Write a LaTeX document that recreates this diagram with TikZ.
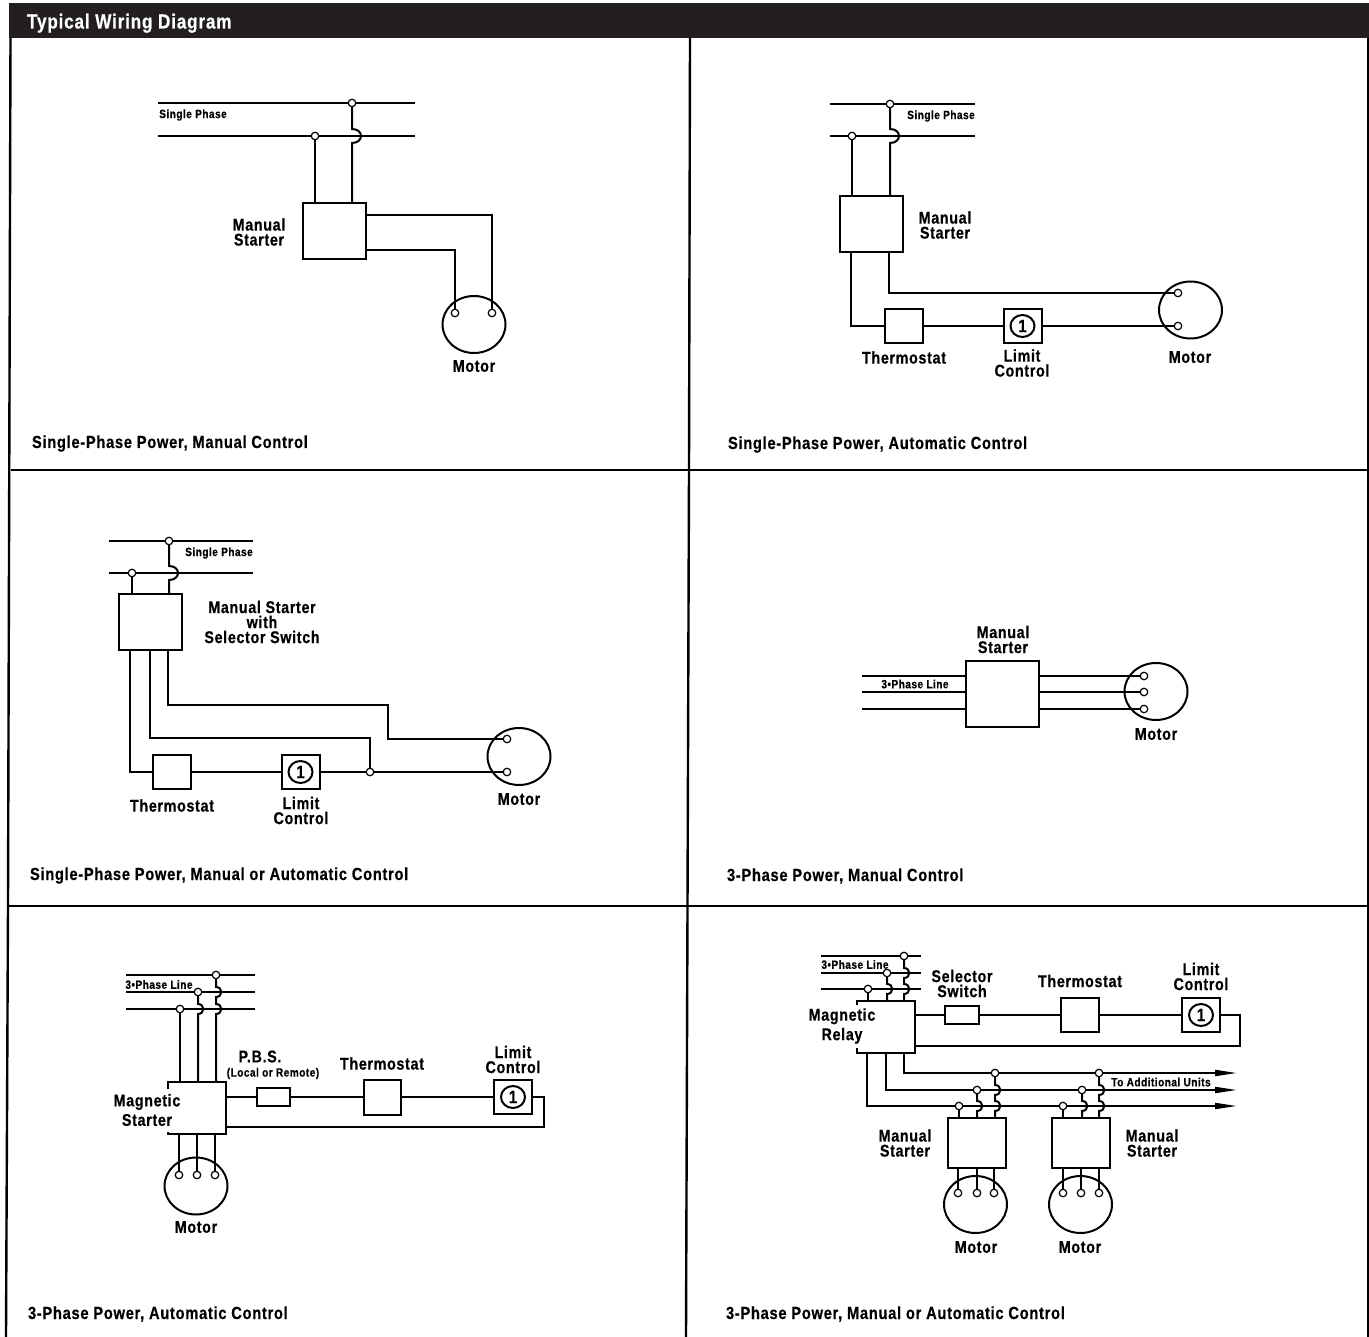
\documentclass[tikz,border=0pt]{standalone}
\usepackage{fontspec}
\setmainfont{Liberation Sans}[FakeStretch=0.84,LetterSpace=4,BoldFeatures={FakeBold=0.5}]
\usetikzlibrary{arrows.meta,shapes.geometric}
\definecolor{barblack}{HTML}{231F20}
\newcommand{\bighop}[2]{-- (#1,#2-7) to[out=0,in=0,looseness=2.2] (#1,#2+7)}
\newcommand{\tinyhop}[2]{-- (#1,#2-5) to[out=0,in=0,looseness=1.8] (#1,#2+5)}

\begin{document}
\begin{tikzpicture}[x=1pt,y=-1pt,line width=2pt,
  every node/.style={outer sep=0pt},
  unit/.style={draw,rectangle,inner sep=0pt},
  tap/.style={draw,circle,line width=1.2pt,inner sep=0pt,minimum size=7.5pt},
  motor/.style={draw,ellipse,inner sep=0pt,minimum width=63pt,minimum height=57pt},
  limitone/.style={draw,ellipse,inner sep=0pt,minimum width=24pt,minimum height=22pt,font=\bfseries\fontsize{18}{18}\selectfont},
  part/.style={align=center,inner sep=0pt,font=\bfseries\fontsize{17}{15}\selectfont},
  note/.style={inner sep=0pt,font=\bfseries\fontsize{12}{12}\selectfont},
  caption/.style={anchor=base west,inner sep=0pt,font=\bfseries\fontsize{17.5}{17}\selectfont},
  gaplabel/.style={part,fill=white,minimum height=43pt,font=\bfseries\fontsize{17}{19.5}\selectfont},
  bus/.style={-{Triangle[length=22pt,width=6pt]}}]
\useasboundingbox (0,0) rectangle (1369,1337);

\node[fill=barblack,inner sep=0pt,minimum width=1360pt,minimum height=35pt] (bar) at (689,20.5) {};
\node[anchor=base west,inner sep=0pt,text=white,font=\bfseries\fontsize{20.4}{21}\selectfont] (title) at (27,28.5) {Typical Wiring Diagram};
\coordinate (tl) at (10.5,38);
\coordinate (ml) at (8,906);
\coordinate (bl) at (6,1337);
\coordinate (tr) at (1368,38);
\coordinate (br) at (1368,1337);
\coordinate (c1) at (690,38);
\coordinate (c2) at (689,470);
\coordinate (c3) at (687.5,906);
\coordinate (c4) at (686,1337);
\draw[line width=2.4pt] (tl) -- (ml) -- (bl);
\draw[line width=2.4pt] (tr) -- (br);
\draw[line width=2.4pt] (c1) -- (c2) -- (c3) -- (c4);
\draw[line width=2.4pt] (c2 -| tl) -- (c2 -| tr);
\draw[line width=2.4pt] (ml) -- (c3 -| tr);

\node[unit,minimum width=63pt,minimum height=56pt] (starta) at (334.5,231) {};
\node[motor] (motora) at (474,324.5) {};
\node[tap] (ta1) at (352,103) {};
\node[tap] (ta2) at (315,136) {};
\node[tap] (ta3) at (455,313) {};
\node[tap] (ta4) at (492,313) {};
\coordinate (la1) at (158,103);
\coordinate (ra1) at (415,103);
\coordinate (la2) at (158,136);
\coordinate (ra2) at (415,136);
\coordinate (ca1) at (492,215);
\coordinate (ca2) at (455,250);
\draw (la1) -- (ta1) -- (ra1);
\draw (la2) -- (ta2) -- (ra2);
\draw (ta2) -- (ta2 |- starta.north);
\draw (ta1) \bighop{352}{136} -- (ta1 |- starta.north);
\draw (ca1 -| starta.east) -- (ca1) -- (ta4);
\draw (ca2 -| starta.east) -- (ca2) -- (ta3);
\node[note] (phasea) at (193,115) {Single Phase};
\node[part] (lblstarta) at (259,232) {Manual\\Starter};
\node[part] (lblmotora) at (474,366) {Motor};
\node[caption] (capa) at (32,448) {Single-Phase Power, Manual Control};

\node[unit,minimum width=63pt,minimum height=56pt] (startb) at (871.5,224) {};
\node[unit,minimum width=38pt,minimum height=34pt] (thermob) at (904,326) {};
\node[unit,minimum width=38pt,minimum height=34pt] (limitb) at (1022.5,326) {};
\node[limitone] (oneb) at (limitb) {1};
\node[motor] (motorb) at (1190.5,310) {};
\node[tap] (tb1) at (890,104) {};
\node[tap] (tb2) at (852,136) {};
\node[tap] (tb3) at (1178,293) {};
\node[tap] (tb4) at (1178,326) {};
\coordinate (lb1) at (830,104);
\coordinate (rb1) at (975,104);
\coordinate (lb2) at (830,136);
\coordinate (rb2) at (975,136);
\coordinate (cb1) at (851,326);
\coordinate (cb2) at (889,293);
\draw (lb1) -- (tb1) -- (rb1);
\draw (lb2) -- (tb2) -- (rb2);
\draw (tb2) -- (tb2 |- startb.north);
\draw (tb1) \bighop{890}{136} -- (tb1 |- startb.north);
\draw (cb1 |- startb.south) -- (cb1) -- (thermob.west);
\draw (thermob.east) -- (limitb.west);
\draw (limitb.east) -- (tb4);
\draw (cb2 |- startb.south) -- (cb2) -- (tb3);
\node[note] (phaseb) at (941,116) {Single Phase};
\node[part] (lblstartb) at (945,225) {Manual\\Starter};
\node[part] (lblthermob) at (904,357.5) {Thermostat};
\node[part] (lbllimitb) at (1022,363) {Limit\\Control};
\node[part] (lblmotorb) at (1190,357) {Motor};
\node[caption] (capb) at (728,449) {Single-Phase Power, Automatic Control};

\node[unit,minimum width=63pt,minimum height=56pt] (startc) at (150.5,622) {};
\node[unit,minimum width=38pt,minimum height=34pt] (thermoc) at (172,772) {};
\node[unit,minimum width=38pt,minimum height=34pt] (limitc) at (300.5,772) {};
\node[limitone] (onec) at (limitc) {1};
\node[motor] (motorc) at (519,756.5) {};
\node[tap] (tc1) at (169,541) {};
\node[tap] (tc2) at (132,573) {};
\node[tap] (tc3) at (370,772) {};
\node[tap] (tc4) at (507,739) {};
\node[tap] (tc5) at (507,772) {};
\coordinate (lc1) at (109,541);
\coordinate (rc1) at (253,541);
\coordinate (lc2) at (109,573);
\coordinate (rc2) at (253,573);
\coordinate (cc1) at (130,772);
\coordinate (cc2) at (150,738);
\coordinate (cc3) at (168,705);
\coordinate (cc4) at (388,705);
\coordinate (cc5) at (388,739);
\draw (lc1) -- (tc1) -- (rc1);
\draw (lc2) -- (tc2) -- (rc2);
\draw (tc2) -- (tc2 |- startc.north);
\draw (tc1) \bighop{169}{573} -- (tc1 |- startc.north);
\draw (cc1 |- startc.south) -- (cc1) -- (thermoc.west);
\draw (thermoc.east) -- (limitc.west);
\draw (limitc.east) -- (tc3) -- (tc5);
\draw (cc2 |- startc.south) -- (cc2) -- (cc2 -| tc3) -- (tc3);
\draw (cc3 |- startc.south) -- (cc3) -- (cc4) -- (cc5) -- (tc4);
\node[note] (phasec) at (219,553) {Single Phase};
\node[part] (lblstartc) at (262,622) {Manual Starter\\with\\Selector Switch};
\node[part] (lblthermoc) at (172,805.5) {Thermostat};
\node[part] (lbllimitc) at (301,810.5) {Limit\\Control};
\node[part] (lblmotorc) at (519,799) {Motor};
\node[caption] (capc) at (30,880) {Single-Phase Power, Manual or Automatic Control};

\node[unit,minimum width=73pt,minimum height=66pt] (startd) at (1002.5,693.5) {};
\node[motor] (motord) at (1156,691.5) {};
\node[tap] (td1) at (1144,676) {};
\node[tap] (td2) at (1144,692) {};
\node[tap] (td3) at (1144,709) {};
\coordinate (ld1) at (862,676);
\coordinate (ld2) at (862,692);
\coordinate (ld3) at (862,709);
\draw (ld1) -- (ld1 -| startd.west);
\draw (ld2) -- (ld2 -| startd.west);
\draw (ld3) -- (ld3 -| startd.west);
\draw (td1 -| startd.east) -- (td1);
\draw (td2 -| startd.east) -- (td2);
\draw (td3 -| startd.east) -- (td3);
\node[note] (phased) at (915,684) {3•Phase Line};
\node[part] (lblstartd) at (1003,639.5) {Manual\\Starter};
\node[part] (lblmotord) at (1156,734) {Motor};
\node[caption] (capd) at (727,881) {3-Phase Power, Manual Control};

\node[unit,minimum width=58pt,minimum height=52pt] (starte) at (197,1108) {};
\node[unit,minimum width=33pt,minimum height=18pt] (pbse) at (273.5,1097) {};
\node[unit,minimum width=37pt,minimum height=35pt] (thermoe) at (382.5,1097) {};
\node[unit,minimum width=38pt,minimum height=34pt] (limite) at (513,1097) {};
\node[limitone] (onee) at (limite) {1};
\node[motor] (motore) at (196,1186) {};
\node[tap] (te1) at (216,975) {};
\node[tap] (te2) at (198,992) {};
\node[tap] (te3) at (180,1009) {};
\node[tap] (te4) at (179,1175) {};
\node[tap] (te5) at (197,1175) {};
\node[tap] (te6) at (215,1175) {};
\coordinate (le1) at (126,975);
\coordinate (re1) at (255,975);
\coordinate (le2) at (126,992);
\coordinate (re2) at (255,992);
\coordinate (le3) at (126,1009);
\coordinate (re3) at (255,1009);
\coordinate (ce1) at (544,1097);
\coordinate (ce2) at (544,1127);
\draw (le1) -- (te1) -- (re1);
\draw (le2) -- (te2) -- (re2);
\draw (le3) -- (te3) -- (re3);
\draw (te3) -- (te3 |- starte.north);
\draw (te2) \tinyhop{198}{1009} -- (te2 |- starte.north);
\draw (te1) \tinyhop{216}{992} \tinyhop{216}{1009} -- (te1 |- starte.north);
\draw (te4 |- starte.south) -- (te4);
\draw (te5 |- starte.south) -- (te5);
\draw (te6 |- starte.south) -- (te6);
\draw (pbse.west -| starte.east) -- (pbse.west);
\draw (pbse.east) -- (thermoe.west);
\draw (thermoe.east) -- (limite.west);
\draw (limite.east) -- (ce1) -- (ce2) -- (ce2 -| starte.east);
\node[note] (phasee) at (159,984.5) {3•Phase Line};
\node[gaplabel] (lblstarte) at (147,1110) {Magnetic\\Starter};
\node[part] (lblpbse) at (260,1056.5) {P.B.S.};
\node[note] (lblremotee) at (273,1073.5) {(Local or Remote)};
\node[part] (lblthermoe) at (382,1063.5) {Thermostat};
\node[part] (lbllimite) at (513,1059.5) {Limit\\Control};
\node[part] (lblmotore) at (196,1227) {Motor};
\node[caption] (cape) at (28,1319) {3-Phase Power, Automatic Control};

\node[unit,minimum width=58pt,minimum height=52pt] (relayf) at (886,1027) {};
\node[unit,minimum width=34pt,minimum height=18pt] (selectf) at (962,1015) {};
\node[unit,minimum width=38pt,minimum height=34pt] (thermof) at (1080,1015) {};
\node[unit,minimum width=38pt,minimum height=34pt] (limitf) at (1201,1015) {};
\node[limitone] (onef) at (limitf) {1};
\node[unit,minimum width=58pt,minimum height=50pt] (startf) at (977,1143) {};
\node[unit,minimum width=58pt,minimum height=50pt] (startg) at (1081,1143) {};
\node[motor] (motorf) at (975.5,1204.5) {};
\node[motor] (motorg) at (1080.5,1204.5) {};
\node[tap] (tf1) at (904,956) {};
\node[tap] (tf2) at (887,973) {};
\node[tap] (tf3) at (868,989) {};
\node[tap] (tf4) at (995,1073) {};
\node[tap] (tf5) at (977,1090) {};
\node[tap] (tf6) at (959,1106) {};
\node[tap] (tg4) at (1099,1073) {};
\node[tap] (tg5) at (1082,1090) {};
\node[tap] (tg6) at (1063,1106) {};
\node[tap] (tf7) at (958,1193) {};
\node[tap] (tf8) at (977,1193) {};
\node[tap] (tf9) at (994,1193) {};
\node[tap] (tg7) at (1063,1193) {};
\node[tap] (tg8) at (1081,1193) {};
\node[tap] (tg9) at (1099,1193) {};
\coordinate (lf1) at (821,956);
\coordinate (rf1) at (921,956);
\coordinate (lf2) at (821,973);
\coordinate (rf2) at (921,973);
\coordinate (lf3) at (821,989);
\coordinate (rf3) at (921,989);
\coordinate (cf1) at (1240,1015);
\coordinate (cf2) at (1240,1046);
\coordinate (bus1) at (904,1073);
\coordinate (bus2) at (886,1090);
\coordinate (bus3) at (867,1106);
\coordinate (end1) at (1237,1073);
\coordinate (end2) at (1237,1090);
\coordinate (end3) at (1237,1106);
\draw (lf1) -- (tf1) -- (rf1);
\draw (lf2) -- (tf2) -- (rf2);
\draw (lf3) -- (tf3) -- (rf3);
\draw (tf3) -- (tf3 |- relayf.north);
\draw (tf2) \tinyhop{887}{989} -- (tf2 |- relayf.north);
\draw (tf1) \tinyhop{904}{973} \tinyhop{904}{989} -- (tf1 |- relayf.north);
\draw (selectf.west -| relayf.east) -- (selectf.west);
\draw (selectf.east) -- (thermof.west);
\draw (thermof.east) -- (limitf.west);
\draw (limitf.east) -- (cf1) -- (cf2) -- (cf2 -| relayf.east);
\draw[bus] (bus1 |- relayf.south) -- (bus1) -- (tf4) -- (tg4) -- (end1);
\draw[bus] (bus2 |- relayf.south) -- (bus2) -- (tf5) -- (tg5) -- (end2);
\draw[bus] (bus3 |- relayf.south) -- (bus3) -- (tf6) -- (tg6) -- (end3);
\draw (tf6) -- (tf6 |- startf.north);
\draw (tf5) \tinyhop{977}{1106} -- (tf5 |- startf.north);
\draw (tf4) \tinyhop{995}{1090} \tinyhop{995}{1106} -- (tf4 |- startf.north);
\draw (tg6) -- (tg6 |- startg.north);
\draw (tg5) \tinyhop{1082}{1106} -- (tg5 |- startg.north);
\draw (tg4) \tinyhop{1099}{1090} \tinyhop{1099}{1106} -- (tg4 |- startg.north);
\draw (tf7 |- startf.south) -- (tf7);
\draw (tf8 |- startf.south) -- (tf8);
\draw (tf9 |- startf.south) -- (tf9);
\draw (tg7 |- startg.south) -- (tg7);
\draw (tg8 |- startg.south) -- (tg8);
\draw (tg9 |- startg.south) -- (tg9);
\node[note] (phasef) at (855,964.5) {3•Phase Line};
\node[gaplabel] (lblrelayf) at (842,1026) {Magnetic\\Relay};
\node[part] (lblselectf) at (962,983.5) {Selector\\Switch};
\node[part] (lblthermof) at (1080,981) {Thermostat};
\node[part] (lbllimitf) at (1201,976.5) {Limit\\Control};
\node[note] (lblunitsf) at (1161,1082) {To Additional Units};
\node[part] (lblstartf) at (905,1143) {Manual\\Starter};
\node[part] (lblstartg) at (1152,1143) {Manual\\Starter};
\node[part] (lblmotorf) at (976,1247) {Motor};
\node[part] (lblmotorg) at (1080,1247) {Motor};
\node[caption] (capf) at (726,1319) {3-Phase Power, Manual or Automatic Control};
\end{tikzpicture}
\end{document}
